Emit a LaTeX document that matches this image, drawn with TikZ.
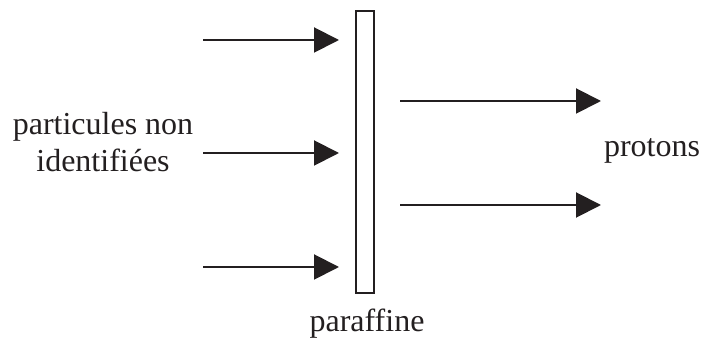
\documentclass[tikz,border=0pt]{standalone}
\usepackage{fontspec}
\setmainfont{Liberation Serif}
\usetikzlibrary{arrows.meta}
\definecolor{ink}{HTML}{231F20}
\begin{document}
\begin{tikzpicture}[x=1pt,y=1pt,
  ray/.style={draw=ink,line width=2pt,-{Triangle[length=25pt,width=25pt]}},
  lbl/.style={text=ink,font=\fontsize{32}{38}\selectfont,inner sep=0pt,anchor=base},
  plate/.style={draw=ink,line width=2pt,inner sep=0pt,minimum width=18pt,minimum height=282pt}]
\useasboundingbox (0,0) rectangle (702,342);
\node[plate] (par) at (365,190) {};
% left arrows
\coordinate (l1s) at (203,302); \coordinate (l1e) at (339,302);
\coordinate (l2s) at (203,189); \coordinate (l2e) at (339,189);
\coordinate (l3s) at (203,75);  \coordinate (l3e) at (339,75);
\draw[ray] (l1s) -- (l1e);
\draw[ray] (l2s) -- (l2e);
\draw[ray] (l3s) -- (l3e);
% right arrows
\coordinate (r1s) at (400,241); \coordinate (r1e) at (601,241);
\coordinate (r2s) at (400,137); \coordinate (r2e) at (601,137);
\draw[ray] (r1s) -- (r1e);
\draw[ray] (r2s) -- (r2e);
% labels
\node[lbl] (pa) at (103,207) {particules non};
\node[lbl] (id) at (103,170) {identifiées};
\node[lbl] (pr) at (652,185) {protons};
\node[lbl] (pf) at (367,10) {paraffine};
\end{tikzpicture}
\end{document}
